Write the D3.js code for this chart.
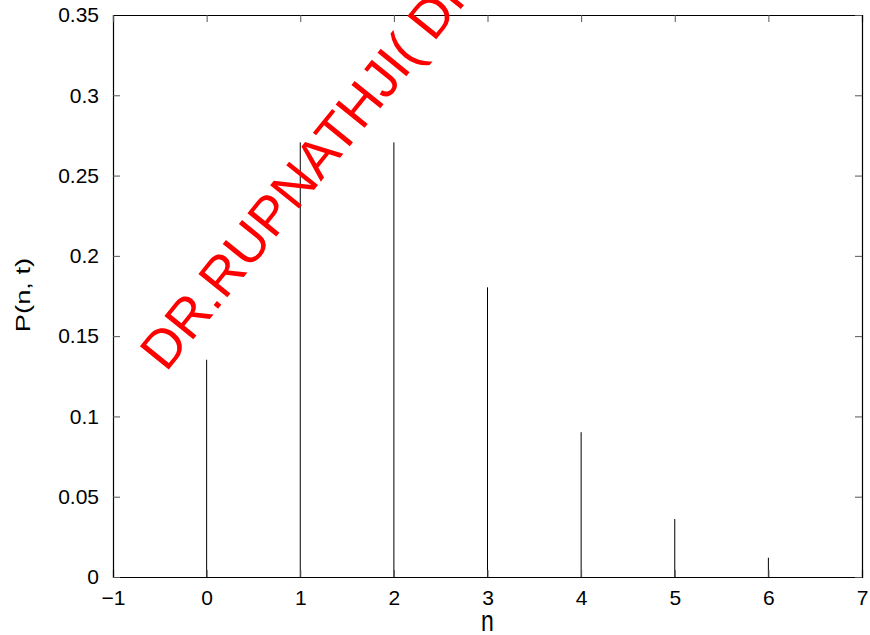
<!DOCTYPE html>
<html>
<head>
<meta charset="utf-8">
<script src="https://cdn.jsdelivr.net/npm/d3@7"></script>
<style>
  body { margin: 0; background: #fff; }
  svg text { font-family: "Liberation Sans", Arial, Helvetica, sans-serif; }
</style>
</head>
<body>
<div id="chart"></div>
<script>
// P(n, t) values
var nValues = [0, 1, 2, 3, 4, 5, 6];
var pValues = [0.1353, 0.2707, 0.2707, 0.1804, 0.0902, 0.0361, 0.0120];
var xTicks = [-1, 0, 1, 2, 3, 4, 5, 6, 7];
var yTicks = [0, 0.05, 0.1, 0.15, 0.2, 0.25, 0.3, 0.35];
var watermark = "DR.RUPNATHJI( DR.RUPAK NATH )";

var W = 870, H = 635;
var margins = { top: 15, left: 113, right: 8, bottom: 58 };
var width = W - margins.left - margins.right;
var height = H - margins.top - margins.bottom;

var svg = d3.select('#chart').append('svg')
        .attr('width', W)
        .attr('height', H);

var xScale = d3.scaleLinear().domain([-1, 7]).range([0, width]);
var yScale = d3.scaleLinear().domain([0, 0.35]).range([height, 0]);

var g = svg.append('g')
        .attr('transform', 'translate(' + margins.left + ',' + margins.top + ')');

// stems
g.selectAll('line.stem')
        .data(nValues)
        .enter()
        .append('line')
        .attr('class', 'stem')
        .attr('x1', function(d) { return xScale(d); })
        .attr('x2', function(d) { return xScale(d); })
        .attr('y1', yScale(0))
        .attr('y2', function(d, i) { return yScale(pValues[i]); })
        .attr('stroke', '#000')
        .attr('stroke-width', 1);

var fmtX = function(d) { return d < 0 ? '\u2212' + Math.abs(d) : String(d); };
var fmtY = function(d) { return String(+d.toFixed(2)); };

// axes with inward ticks on all four sides, MATLAB style
var bottomAxis = g.append('g').attr('transform', 'translate(0,' + height + ')')
        .call(d3.axisBottom(xScale).tickValues(xTicks).tickSize(-7).tickPadding(13).tickFormat(fmtX));
var leftAxis = g.append('g')
        .call(d3.axisLeft(yScale).tickValues(yTicks).tickSize(-7).tickPadding(14).tickFormat(fmtY));
var topAxis = g.append('g')
        .call(d3.axisTop(xScale).tickValues(xTicks).tickSize(-7).tickFormat(''));
var rightAxis = g.append('g').attr('transform', 'translate(' + width + ',0)')
        .call(d3.axisRight(yScale).tickValues(yTicks).tickSize(-7).tickFormat(''));

[bottomAxis, leftAxis, topAxis, rightAxis].forEach(function(a) {
        a.select('.domain').attr('stroke', '#000').attr('stroke-width', 1.2);
        a.selectAll('.tick line').attr('stroke', '#555');
        a.selectAll('.tick text').attr('fill', '#000').style('font-size', '21px');
});

// axis labels (slightly stretched like the source image)
svg.append('text')
        .attr('transform', 'translate(' + (margins.left + xScale(3)) + ',631) scale(1,1.3)')
        .attr('text-anchor', 'middle')
        .style('font-size', '23px')
        .text('n');
svg.append('text')
        .attr('transform', 'translate(30,' + (margins.top + 280) + ') rotate(-90) scale(1.3,1)')
        .attr('text-anchor', 'middle')
        .style('font-size', '21px')
        .text('P(n, t)');

// watermark
svg.append('text')
        .attr('transform', 'translate(166,373) rotate(-51)')
        .attr('fill', '#ff0000')
        .style('font-size', '54px')
        .text(watermark);
</script>
</body>
</html>
